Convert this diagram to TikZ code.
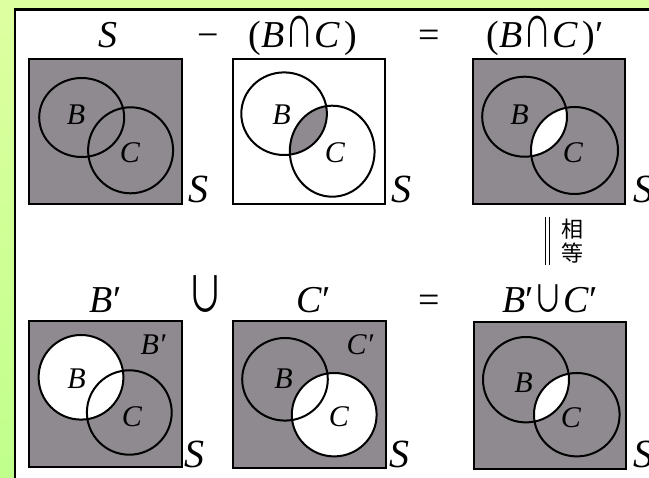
\documentclass[tikz,border=0pt]{standalone}
\usepackage{fontspec}
\setmainfont{Liberation Serif}
\newfontfamily\cjkfont{Noto Sans CJK SC}
\definecolor{vgray}{RGB}{142,138,143}
\definecolor{bgtop}{RGB}{222,255,160}
\definecolor{bgbot}{RGB}{192,255,140}
\newcommand{\mycap}{\kern1pt\scalebox{0.74}[1.1]{\cjkfont ∩}\kern1pt}
\newcommand{\bigcupsym}{\scalebox{0.95}[1.3]{\cjkfont ∪}}
\newcommand{\mycup}{\scalebox{0.78}[0.98]{\cjkfont ∪}}
\begin{document}
\begin{tikzpicture}[x=1pt,y=-1pt,
  lab/.style={font=\fontsize{38}{40}\selectfont, inner sep=0pt, anchor=base},
  slab/.style={font=\fontsize{40}{42}\selectfont\itshape, inner sep=0pt, anchor=base},
  inl/.style={font=\fontsize{30}{32}\selectfont\itshape, inner sep=0pt, anchor=base},
  cjk/.style={font=\cjkfont\fontsize{22}{24}\selectfont, inner sep=0pt},
  frame/.style={draw=black, line width=2.4pt},
  ring/.style={draw=black, line width=2pt},
]
\useasboundingbox (0,0) rectangle (649,478);
\clip (0,0) rectangle (649,478);
\shade[top color=bgtop, bottom color=bgbot] (0,0) rectangle (649,478);
\draw[fill=white, line width=2.5pt] (15,9.5) rectangle (720,540);

% ---------- Row 1 ----------
\node[lab] (t1) at (107.6,48) {\textit{S}};
\node[lab] (t2) at (208,48) {−};
\node[lab] (t3) at (303,48) {(\textit{B}\mycap\textit{C}\/\kern4pt)};
\node[lab] (t4) at (429.5,48) {=};
\node[lab] (t5) at (545,48) {(\textit{B}\mycap\textit{C}\/\kern4pt)′};

% box 1: S
\begin{scope}[shift={(29,59)}]
  \fill[vgray] (0,0) rectangle (153,145);
  \draw[ring] (52.7,58.5) ellipse [x radius=42.5pt, y radius=39.5pt];
  \draw[ring] (101.6,91.3) ellipse [x radius=42.5pt, y radius=43pt];
  \draw[frame] (0,0) rectangle (153,145);
  \node[inl] (r1aB) at (47,66) {B};
  \node[inl] (r1aC) at (101,104) {C};
\end{scope}
\node[slab] (r1aS) at (198.7,203) {S};

% box 2: B cap C
\begin{scope}[shift={(233,59)}]
  \fill[white] (0,0) rectangle (152,145);
  \begin{scope}
    \clip (51.1,54.7) ellipse [x radius=42.8pt, y radius=41.3pt];
    \fill[vgray] (99.2,92.2) ellipse [x radius=42.4pt, y radius=45.5pt];
  \end{scope}
  \draw[ring] (51.1,54.7) ellipse [x radius=42.8pt, y radius=41.3pt];
  \draw[ring] (99.2,92.2) ellipse [x radius=42.4pt, y radius=45.5pt];
  \draw[frame] (0,0) rectangle (152,145);
  \node[inl] (r1bB) at (48.5,66) {B};
  \node[inl] (r1bC) at (102,104) {C};
\end{scope}
\node[slab] (r1bS) at (401.5,203) {S};

% box 3: (B cap C)'
\begin{scope}[shift={(473,59)}]
  \fill[vgray] (0,0) rectangle (152,145);
  \begin{scope}
    \clip (51.6,57.7) ellipse [x radius=42.4pt, y radius=40pt];
    \fill[white] (101.5,91.5) ellipse [x radius=43.5pt, y radius=43.5pt];
  \end{scope}
  \draw[ring] (51.6,57.7) ellipse [x radius=42.4pt, y radius=40pt];
  \draw[ring] (101.5,91.5) ellipse [x radius=43.5pt, y radius=43.5pt];
  \draw[frame] (0,0) rectangle (152,145);
  \node[inl] (r1cB) at (46.5,66) {B};
  \node[inl] (r1cC) at (100,104) {C};
\end{scope}
\node[slab] (r1cS) at (643.6,203) {S};

% equality mark
\coordinate (e1t) at (545,217);
\coordinate (e1b) at (545,265);
\coordinate (e2t) at (549.5,217);
\coordinate (e2b) at (549.5,265);
\draw[line width=1pt] (e1t) -- (e1b);
\draw[line width=1pt] (e2t) -- (e2b);
\node[cjk] (xiang) at (572,229) {相};
\node[cjk] (deng) at (572,253) {等};

% ---------- Row 2 ----------
\node[lab] (u1) at (105.6,313) {\textit{B}′};
\node[lab] (u2) at (206,313) {\bigcupsym};
\node[lab] (u3) at (313.5,313) {\textit{C}′};
\node[lab] (u4) at (429.5,313) {=};
\node[lab] (u5) at (550,313) {\textit{B}′\mycup\textit{C}′};

% box 1: B'
\begin{scope}[shift={(29,321)}]
  \fill[vgray] (0,0) rectangle (153,146);
  \fill[white] (52,56.3) ellipse [x radius=42.4pt, y radius=42.3pt];
  \draw[ring] (52,56.3) ellipse [x radius=42.4pt, y radius=42.3pt];
  \draw[ring] (100.3,91.5) ellipse [x radius=42.4pt, y radius=42.2pt];
  \draw[frame] (0,0) rectangle (153,146);
  \node[inl] (r2aB) at (47.6,68) {B};
  \node[inl] (r2aC) at (103,106) {C};
  \node[inl] (r2aBp) at (124,34) {B′};
\end{scope}
\node[slab] (r2aS) at (194.5,468) {S};

% box 2: C'
\begin{scope}[shift={(233,321)}]
  \fill[vgray] (0,0) rectangle (153,147);
  \fill[white] (101.2,93.7) ellipse [x radius=42.4pt, y radius=41.7pt];
  \draw[ring] (52,58.3) ellipse [x radius=42.8pt, y radius=41.3pt];
  \draw[ring] (101.2,93.7) ellipse [x radius=42.4pt, y radius=41.7pt];
  \draw[frame] (0,0) rectangle (153,147);
  \node[inl] (r2bB) at (50.5,68) {B};
  \node[inl] (r2bC) at (106,106) {C};
  \node[inl] (r2bCp) at (127,34) {C′};
\end{scope}
\node[slab] (r2bS) at (399.4,468) {S};

% box 3: B' cup C'
\begin{scope}[shift={(474,322)}]
  \fill[vgray] (0,0) rectangle (152,147);
  \begin{scope}
    \clip (52,57.7) ellipse [x radius=43pt, y radius=42.7pt];
    \fill[white] (102.8,92.7) ellipse [x radius=42.8pt, y radius=41.7pt];
  \end{scope}
  \draw[ring] (52,57.7) ellipse [x radius=43pt, y radius=42.7pt];
  \draw[ring] (102.8,92.7) ellipse [x radius=42.8pt, y radius=41.7pt];
  \draw[frame] (0,0) rectangle (152,147);
  \node[inl] (r2cB) at (49.6,71) {B};
  \node[inl] (r2cC) at (97,106) {C};
\end{scope}
\node[slab] (r2cS) at (643.6,468) {S};
\end{tikzpicture}
\end{document}
